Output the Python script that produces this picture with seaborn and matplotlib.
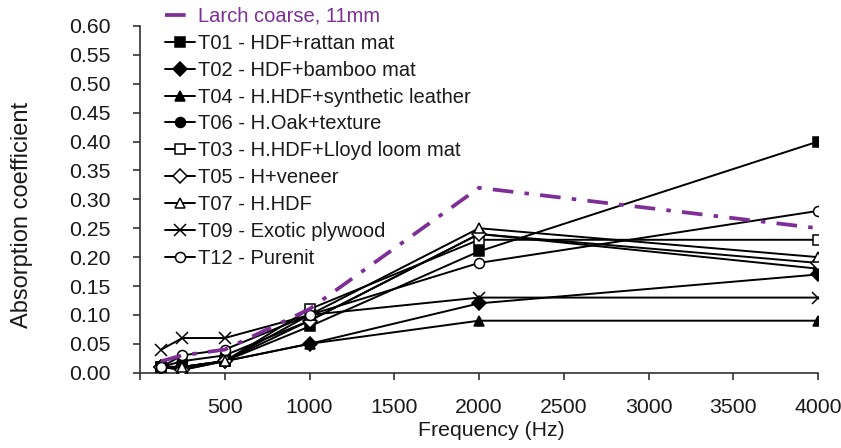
import matplotlib
matplotlib.use("Agg")
import matplotlib.pyplot as plt
import seaborn as sns
import pandas as pd

# Octave-band centre frequencies (Hz)
freqs = [125, 250, 500, 1000, 2000, 4000]

# Absorption coefficients per sample
larch = [0.02, 0.03, 0.04, 0.11, 0.32, 0.25]
t01 = [0.01, 0.01, 0.02, 0.08, 0.21, 0.40]
t02 = [0.01, 0.01, 0.02, 0.05, 0.12, 0.17]
t04 = [0.01, 0.01, 0.02, 0.05, 0.09, 0.09]
t06 = [0.01, 0.02, 0.03, 0.09, 0.24, 0.18]
t03 = [0.01, 0.005, 0.02, 0.11, 0.23, 0.23]
t05 = [0.01, 0.005, 0.02, 0.09, 0.24, 0.19]
t07 = [0.01, 0.01, 0.02, 0.10, 0.25, 0.20]
t09 = [0.04, 0.06, 0.06, 0.10, 0.13, 0.13]
t12 = [0.01, 0.03, 0.04, 0.10, 0.19, 0.28]

larch_label = "Larch coarse, 11mm"
series_labels = [
    "T01 - HDF+rattan mat",
    "T02 - HDF+bamboo mat",
    "T04 - H.HDF+synthetic leather",
    "T06 - H.Oak+texture",
    "T03 - H.HDF+Lloyd loom mat",
    "T05 - H+veneer",
    "T07 - H.HDF",
    "T09 - Exotic plywood",
    "T12 - Purenit",
]
series_values = [t01, t02, t04, t06, t03, t05, t07, t09, t12]

x_ticks = [0, 500, 1000, 1500, 2000, 2500, 3000, 3500, 4000]
x_tick_labels = ["", "500", "1000", "1500", "2000", "2500", "3000", "3500", "4000"]
y_ticks = [0.00, 0.05, 0.10, 0.15, 0.20, 0.25, 0.30, 0.35, 0.40, 0.45, 0.50, 0.55, 0.60]

# marker, filled?
marker_styles = [
    ("s", True),
    ("D", True),
    ("^", True),
    ("o", True),
    ("s", False),
    ("D", False),
    ("^", False),
    ("x", True),
    ("o", False),
]

sns.set_style("ticks")
plt.rcParams["font.family"] = ["Liberation Sans", "DejaVu Sans"]

fig = plt.figure(figsize=(8.41, 4.48), dpi=100)
ax = fig.add_axes([140 / 841, 1 - 372.7 / 448, (818 - 140) / 841, (372.7 - 26) / 448])

rows = []
for lab, vals in zip(series_labels, series_values):
    for f, v in zip(freqs, vals):
        rows.append({"freq": f, "alpha": v, "sample": lab})
df = pd.DataFrame(rows)
df_larch = pd.DataFrame({"freq": freqs, "alpha": larch})

purple = "#7E2E96"
sns.lineplot(data=df_larch, x="freq", y="alpha", ax=ax, color=purple,
             linewidth=2.7, linestyle=(0, (5.5, 3, 1.2, 3)), zorder=5,
             label=larch_label)

for lab, (mk, filled) in zip(series_labels, marker_styles):
    sub = df[df["sample"] == lab]
    size = 7.2 if mk in ("s", "o") else 6.8
    if mk == "x":
        size = 8
    sns.lineplot(data=sub, x="freq", y="alpha", ax=ax, color="black",
                 linewidth=1.4, marker=mk, markersize=size,
                 markerfacecolor="black" if filled else "white",
                 markeredgecolor="black", markeredgewidth=1.1,
                 label=lab, zorder=3)

ax.set_xlim(0, 4000)
ax.set_ylim(0, 0.6)
ax.set_xticks(x_ticks)
ax.set_xticklabels(x_tick_labels)
ax.set_yticks(y_ticks)
ax.set_yticklabels([f"{v:.2f}" for v in y_ticks])
ax.tick_params(axis="both", labelsize=15.3, length=5, width=1.2, color="#333333",
               labelcolor="#1a1a1a")
ax.tick_params(axis="y", pad=16)
ax.tick_params(axis="x", pad=13)
for s in ("top", "right"):
    ax.spines[s].set_visible(False)
for s in ("left", "bottom"):
    ax.spines[s].set_linewidth(1.2)
    ax.spines[s].set_color("#333333")

ax.set_xlabel("Frequency (Hz)", fontsize=15.3, color="#1a1a1a")
ax.set_ylabel("Absorption coefficient", fontsize=17, color="#1a1a1a")
ax.xaxis.set_label_coords(0.518, -0.14)
ax.yaxis.set_label_coords(-0.158, 0.455)

h, l = ax.get_legend_handles_labels()
leg = ax.legend(h, l, loc="upper left", bbox_to_anchor=(165 / 841, 1 - 7 / 448),
                bbox_transform=fig.transFigure, frameon=False, fontsize=14.5,
                handlelength=1.5, handletextpad=0.15, labelspacing=0.39,
                borderpad=0, borderaxespad=0)
leg.get_texts()[0].set_color(purple)
for t in leg.get_texts()[1:]:
    t.set_color("#1a1a1a")

fig.savefig("out.png", dpi=100)
